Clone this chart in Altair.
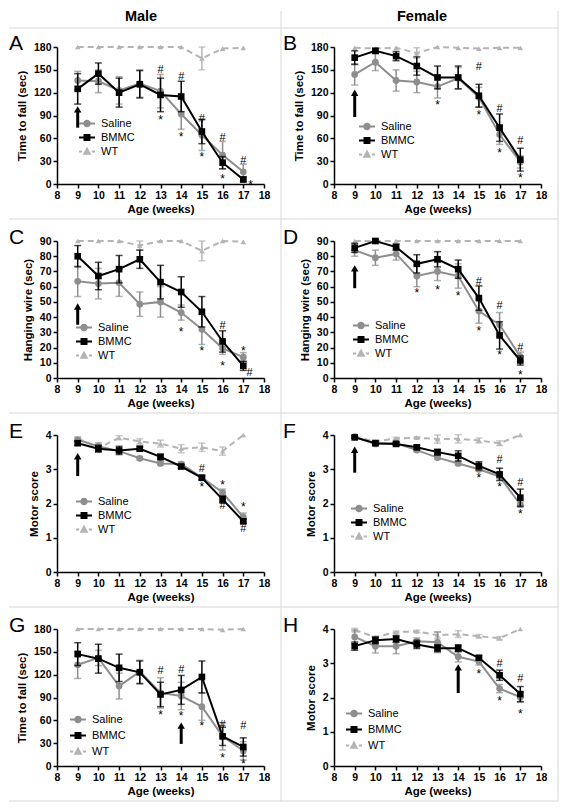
import altair as alt
import pandas as pd

weeks = [9, 10, 11, 12, 13, 14, 15, 16, 17]
series_names = ["Saline", "BMMC", "WT"]

# ---- Panel A: male, rotarod (time to fall), treatment at week 9
A_saline = [136, 135, 123, 132, 122, 92, 64, 38, 16]
A_saline_err = [12, 15, 18, 18, 22, 20, 20, 18, 10]
A_bmmc = [125, 145, 120, 131, 117, 115, 69, 28, 6]
A_bmmc_err = [20, 14, 19, 18, 22, 20, 16, 8, 3]
A_wt = [180, 180, 180, 180, 180, 180, 165, 178, 179]
A_wt_err = [0, 0, 0, 0, 0, 0, 15, 0, 0]
A_marks = [(13, 150, "#"), (14, 140, "#"), (15, 86, "#"), (16, 60, "#"), (17, 30, "#"),
           (13, 88, "*"), (14, 66, "*"), (15, 40, "*"), (16, 10, "*"), (17.35, 3, "*")]
A_arrow = (9, 74, 98)

# ---- Panel B: female, rotarod
B_saline = [144, 160, 136, 134, 128, 139, 114, 65, 29]
B_saline_err = [14, 11, 14, 14, 15, 14, 13, 13, 8]
B_bmmc = [166, 175, 168, 155, 140, 140, 116, 74, 32]
B_bmmc_err = [9, 3, 6, 12, 15, 15, 15, 18, 15]
B_wt = [179, 178, 179, 172, 180, 179, 178, 179, 179]
B_wt_err = [0, 0, 0, 7, 0, 0, 0, 0, 0]
B_marks = [(13, 108, "*"), (15, 154, "#"), (15, 94, "*"), (16, 98, "#"), (16, 45, "*"),
           (17, 56, "#"), (17, 12, "*")]
B_arrow = (9, 88, 120)

# ---- Panel C: male, hanging wire
C_saline = [63.5, 62, 62.6, 48.5, 50, 43, 32, 19.5, 13.7]
C_saline_err = [10, 10, 9, 8, 10, 5, 10, 4, 3]
C_bmmc = [80, 67, 71.5, 78, 63, 56.5, 43.5, 24, 8]
C_bmmc_err = [7, 9, 9, 6, 11, 10, 10, 7, 3]
C_wt = [90, 90, 90, 87, 90, 90, 83.5, 90, 89.5]
C_wt_err = [0, 0, 0, 3, 0, 0, 6.5, 0, 0]
C_marks = [(14, 32, "*"), (15, 20, "*"), (16, 34, "#"), (16, 10, "*"), (17, 20, "*"),
           (17.3, 3, "#")]
C_arrow = (9, 35, 47)

# ---- Panel D: female, hanging wire
D_saline = [84, 79, 81.5, 67, 70, 67, 44, 35, 14]
D_saline_err = [4, 5, 4, 7, 6, 8, 8, 8, 3]
D_bmmc = [85.5, 90, 86, 75, 78, 71.5, 52.5, 28, 11.5]
D_bmmc_err = [3, 1, 2, 6, 5, 6, 8, 9, 3]
D_wt = [90, 90, 90, 90, 90, 90, 90, 90, 90]
D_wt_err = [0, 0, 0, 0, 0, 0, 0, 0, 0]
D_marks = [(12, 58, "*"), (13, 60, "*"), (14, 56, "*"), (15, 63, "#"), (15, 33, "*"),
           (16, 47, "#"), (16, 17, "*"), (17, 20, "#"), (17, 4, "*")]
D_arrow = (9, 59, 72)

# ---- Panel E: male, motor score
E_saline = [3.86, 3.67, 3.53, 3.32, 3.17, 3.15, 2.76, 2.32, 1.6]
E_saline_err = [0.05, 0.1, 0.05, 0.05, 0.05, 0.06, 0.08, 0.1, 0.12]
E_bmmc = [3.76, 3.6, 3.55, 3.6, 3.36, 3.08, 2.75, 2.12, 1.48]
E_bmmc_err = [0.05, 0.1, 0.12, 0.06, 0.08, 0.05, 0.06, 0.1, 0.06]
E_wt = [3.9, 3.62, 3.92, 3.81, 3.75, 3.6, 3.64, 3.53, 4.0]
E_wt_err = [0.05, 0.1, 0.06, 0.08, 0.1, 0.12, 0.12, 0.12, 0]
E_marks = [(15, 3.01, "#"), (15, 2.57, "*"), (16, 2.64, "*"), (16, 1.93, "#"),
           (17, 1.98, "*"), (17, 1.25, "#")]
E_arrow = (9, 2.8, 3.38)

# ---- Panel F: female, motor score
F_saline = [3.95, 3.74, 3.76, 3.56, 3.34, 3.17, 3.0, 2.79, 1.97]
F_saline_err = [0.03, 0.05, 0.05, 0.05, 0.05, 0.05, 0.06, 0.06, 0.08]
F_bmmc = [3.93, 3.76, 3.74, 3.64, 3.5, 3.39, 3.1, 2.85, 2.17]
F_bmmc_err = [0.03, 0.05, 0.05, 0.06, 0.08, 0.15, 0.12, 0.18, 0.25]
F_wt = [3.95, 3.81, 3.9, 3.92, 3.88, 3.89, 3.84, 3.76, 4.0]
F_wt_err = [0.03, 0.05, 0.03, 0.03, 0.12, 0.12, 0.07, 0.07, 0]
F_marks = [(15, 2.82, "*"), (16, 3.26, "#"), (16, 2.58, "*"), (17, 2.6, "#"), (17, 1.78, "*")]
F_arrow = (9, 2.9, 3.57)

# ---- Panel G: male, rotarod, treatment at week 14
G_saline = [133, 142, 105, 124, 96, 92, 78, 39, 20]
G_saline_err = [18, 10, 17, 15, 20, 18, 18, 18, 12]
G_bmmc = [147, 141, 129, 123, 94, 100, 117, 39, 25]
G_bmmc_err = [15, 19, 18, 15, 16, 19, 21, 12, 12]
G_wt = [180, 180, 180, 180, 180, 180, 180, 179, 180]
G_wt_err = [0, 0, 0, 0, 0, 0, 0, 0, 0]
G_marks = [(13, 125, "#"), (13, 71, "*"), (14, 126, "#"), (14, 70, "*"), (15, 56, "*"),
           (16, 54, "#"), (16, 14, "*"), (17, 52, "#"), (17, 7, "*")]
G_arrow = (14, 29, 53)

# ---- Panel H: female, motor score, treatment at week 14
H_saline = [3.77, 3.5, 3.5, 3.64, 3.61, 3.19, 3.05, 2.26, 2.01]
H_saline_err = [0.2, 0.2, 0.22, 0.1, 0.3, 0.15, 0.1, 0.12, 0.15]
H_bmmc = [3.5, 3.67, 3.71, 3.55, 3.44, 3.44, 3.16, 2.65, 2.1]
H_bmmc_err = [0.12, 0.1, 0.1, 0.12, 0.1, 0.1, 0.06, 0.15, 0.22]
H_wt = [3.97, 3.76, 3.91, 3.93, 3.82, 3.85, 3.79, 3.73, 4.0]
H_wt_err = [0.05, 0.03, 0.03, 0.03, 0.1, 0.1, 0.05, 0.05, 0]
H_marks = [(15, 2.76, "*"), (16, 2.98, "#"), (16, 1.99, "*"), (17, 2.53, "#"), (17, 1.61, "*")]
H_arrow = (14, 2.13, 2.88)

# ------------------------------------------------------------------ style
FONT = "Liberation Sans"
COL = {"Saline": "#8e8e8e", "BMMC": "#000000", "WT": "#b4b4b4"}
SHAPE = {"Saline": "circle", "BMMC": "square", "WT": "triangle-up"}
MSIZE = {"Saline": 46, "BMMC": 44, "WT": 30}
# legend glyphs (line + marker); unit = 8 px at legend symbol size 256
LEG_PATH = {
    "Saline": "M-1,0H1M-0.34,0A0.34,0.34 0 1,1 0.34,0A0.34,0.34 0 1,1 -0.34,0Z",
    "BMMC": "M-1,0H1M-0.31,-0.31H0.31V0.31H-0.31Z",
    "WT": "M-1,0H-0.6M0.6,0H1M0,-0.36L0.34,0.27H-0.34Z",
}
GRID = "#d6d6d6"
W, H = 207, 137
one = pd.DataFrame({"k": [0]})


def hline(y, x1, x2):
    return alt.Chart(one).mark_rule(color=GRID, strokeWidth=1).encode(
        y=alt.value(y), x=alt.value(x1), x2=alt.value(x2))


def vline(x, y1, y2):
    return alt.Chart(one).mark_rule(color=GRID, strokeWidth=1).encode(
        x=alt.value(x), y=alt.value(y1), y2=alt.value(y2))


def caption(txt, x, y, size, weight, align, baseline):
    return alt.Chart(one).mark_text(
        text=txt, font=FONT, fontSize=size, fontWeight=weight, align=align,
        baseline=baseline, color="black").encode(x=alt.value(x), y=alt.value(y))


def make_panel(letter, col, row, sal, sal_e, bm, bm_e, wt, wt_e, marks, arrow,
               ymax, ystep, ytitle, leg, header=None):
    recs = []
    for name, m, e in (("Saline", sal, sal_e), ("BMMC", bm, bm_e), ("WT", wt, wt_e)):
        for wk, v, d in zip(weeks, m, e):
            recs.append({"week": wk, "value": v, "lo": v - d, "hi": v + d,
                         "err": d, "series": name})
    df = pd.DataFrame(recs)
    xs = alt.Scale(domain=[8, 18], nice=False, zero=False)
    ys = alt.Scale(domain=[0, ymax], nice=False)
    xax = alt.Axis(title="Age (weeks)", values=list(range(8, 19)), labelFlush=False)
    yax = alt.Axis(title=ytitle, values=list(range(0, ymax + 1, ystep)))

    def X(f="week"):
        return alt.X(f + ":Q", scale=xs, axis=xax)

    def Y(f):
        return alt.Y(f + ":Q", scale=ys, axis=yax)

    layers = []
    # table frame lines
    top = -19 if row == 0 else -22
    left = -48 if col == 0 else -53
    layers.append(hline(top, left, W + 17))
    if col == 1:
        layers.append(vline(-53, -36 if row == 0 else -22, H + 35))
        layers.append(vline(W + 17, -36 if row == 0 else -22, H + 35))
    if row == 3:
        layers.append(hline(H + 35, left, W + 17))
    if header:
        layers.append(caption(header, 84 if col == 0 else 88, -30, 14.5, "bold", "center", "middle"))
    layers.append(caption(letter, -48 if col == 0 else -51, 3, 21, "normal", "left", "alphabetic"))

    base = alt.Chart(df)
    for name in ("WT", "Saline", "BMMC"):
        s = base.transform_filter(alt.datum.series == name)
        e = s.transform_filter("datum.err > 0")
        c = COL[name]
        layers.append(e.mark_rule(color=c, strokeWidth=1.5).encode(x=X(), y=Y("lo"), y2="hi:Q"))
        layers.append(e.mark_tick(color=c, orient="horizontal", size=7, thickness=1.5).encode(x=X(), y=Y("lo")))
        layers.append(e.mark_tick(color=c, orient="horizontal", size=7, thickness=1.5).encode(x=X(), y=Y("hi")))
        if name == "WT":
            line = s.mark_line(color=c, strokeWidth=2, strokeDash=[6, 4])
        else:
            line = s.mark_line(color=c, strokeWidth=2)
        layers.append(line.encode(x=X(), y=Y("value")))
        layers.append(s.mark_point(shape=SHAPE[name], filled=True, size=MSIZE[name],
                                   color=c, opacity=1).encode(x=X(), y=Y("value")))

    # legend (entries come from the scale domains)
    lg = alt.Legend(orient="none", legendX=leg[0], legendY=leg[1], title=None,
                    labelFont=FONT, labelFontSize=11, labelColor="black",
                    symbolSize=256, symbolStrokeWidth=2, labelOffset=5,
                    clipHeight=11, rowPadding=leg[2], symbolOpacity=1)
    crange = [COL[n] for n in series_names]
    layers.append(base.transform_filter("false").mark_point(filled=True, strokeWidth=2).encode(
        x=X(), y=Y("value"),
        fill=alt.Fill("series:N", scale=alt.Scale(domain=series_names, range=crange), legend=lg),
        stroke=alt.Stroke("series:N", scale=alt.Scale(domain=series_names, range=crange), legend=lg),
        shape=alt.Shape("series:N", scale=alt.Scale(domain=series_names,
                                                    range=[LEG_PATH[n] for n in series_names]), legend=lg),
    ))

    # significance marks
    mdf = pd.DataFrame(marks, columns=["week", "y", "sym"])
    mb = alt.Chart(mdf)
    layers.append(mb.transform_filter(alt.datum.sym == "#").mark_text(
        font=FONT, fontSize=11, color="black", baseline="middle").encode(x=X(), y=Y("y"), text="sym:N"))
    layers.append(mb.transform_filter(alt.datum.sym == "*").mark_text(
        font=FONT, fontSize=12, color="black", baseline="middle", dy=3).encode(x=X(), y=Y("y"), text="sym:N"))

    # treatment arrow
    adf = pd.DataFrame({"week": [arrow[0]], "y0": [arrow[1]], "y1": [arrow[2]]})
    ab = alt.Chart(adf)
    layers.append(ab.mark_rule(color="black", strokeWidth=3).encode(x=X(), y=Y("y0"), y2="y1:Q"))
    layers.append(ab.mark_point(shape="triangle-up", filled=True, size=55, color="black",
                                opacity=1).encode(x=X(), y=Y("y1")))

    return alt.layer(*layers).properties(width=W, height=H)


T180, T90, T4 = "Time to fall (sec)", "Hanging wire (sec)", "Motor score"
panels = [
    make_panel("A", 0, 0, A_saline, A_saline_err, A_bmmc, A_bmmc_err, A_wt, A_wt_err,
               A_marks, A_arrow, 180, 30, T180, (21, 71, 2), header="Male"),
    make_panel("B", 1, 0, B_saline, B_saline_err, B_bmmc, B_bmmc_err, B_wt, B_wt_err,
               B_marks, B_arrow, 180, 30, T180, (24, 74, 2), header="Female"),
    make_panel("C", 0, 1, C_saline, C_saline_err, C_bmmc, C_bmmc_err, C_wt, C_wt_err,
               C_marks, C_arrow, 90, 10, T90, (18, 81, 2)),
    make_panel("D", 1, 1, D_saline, D_saline_err, D_bmmc, D_bmmc_err, D_wt, D_wt_err,
               D_marks, D_arrow, 90, 10, T90, (18, 79, 2)),
    make_panel("E", 0, 2, E_saline, E_saline_err, E_bmmc, E_bmmc_err, E_wt, E_wt_err,
               E_marks, E_arrow, 4, 1, T4, (18, 61, 2)),
    make_panel("F", 1, 2, F_saline, F_saline_err, F_bmmc, F_bmmc_err, F_wt, F_wt_err,
               F_marks, F_arrow, 4, 1, T4, (16, 68, 2)),
    make_panel("G", 0, 3, G_saline, G_saline_err, G_bmmc, G_bmmc_err, G_wt, G_wt_err,
               G_marks, G_arrow, 180, 30, T180, (12, 85, 4)),
    make_panel("H", 1, 3, H_saline, H_saline_err, H_bmmc, H_bmmc_err, H_wt, H_wt_err,
               H_marks, H_arrow, 4, 1, T4, (11, 79, 4)),
]

chart = alt.concat(*panels, columns=2, spacing={"row": 57, "column": 70}, bounds="flush")
chart = chart.resolve_scale(fill="independent", stroke="independent", shape="independent")
chart = chart.resolve_legend(fill="independent", stroke="independent", shape="independent")
chart = chart.properties(padding=0)
chart = chart.configure_axis(
    grid=False, domainColor="black", domainWidth=1.5, tickColor="black", tickWidth=1.5,
    tickSize=4, labelFont=FONT, labelFontSize=10.5, labelFontWeight="bold",
    labelColor="black", labelPadding=2, titleFont=FONT, titleFontSize=11.5,
    titleFontWeight="bold", titleColor="black",
).configure_axisX(titlePadding=3).configure_axisY(titlePadding=6).configure_view(stroke="transparent")

chart.save("out.html", embed_options={"renderer": "svg", "actions": False})
